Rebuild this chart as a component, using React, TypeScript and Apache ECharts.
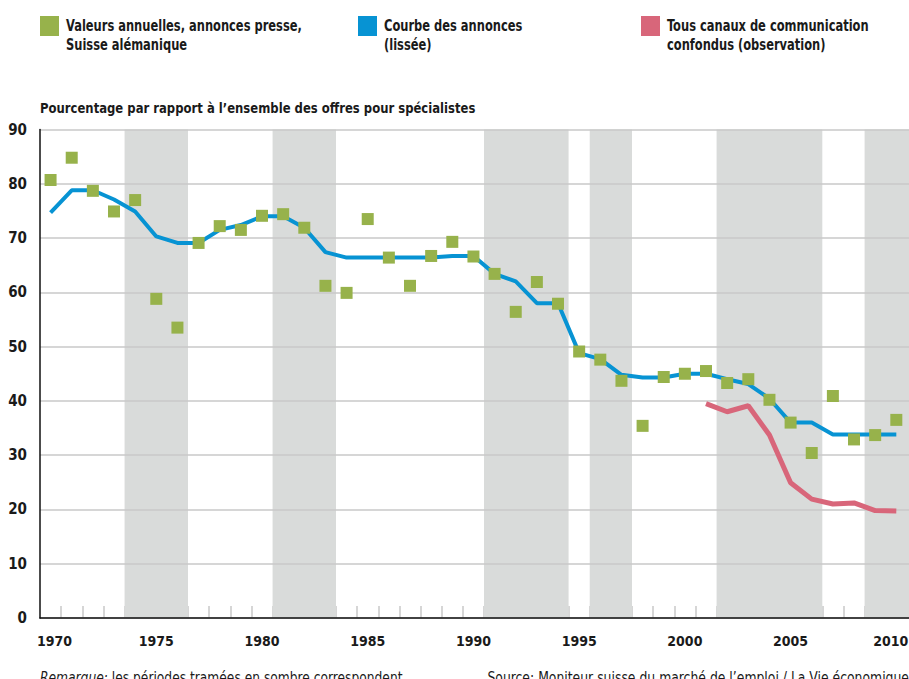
import React, { useEffect, useRef } from "react";
import * as echarts from "echarts";

const years = [
  1970, 1971, 1972, 1973, 1974, 1975, 1976, 1977, 1978, 1979,
  1980, 1981, 1982, 1983, 1984, 1985, 1986, 1987, 1988, 1989,
  1990, 1991, 1992, 1993, 1994, 1995, 1996, 1997, 1998, 1999,
  2000, 2001, 2002, 2003, 2004, 2005, 2006, 2007, 2008, 2009, 2010,
];

const annualValues = [
  80.7, 84.8, 78.7, 74.9, 77.0, 58.8, 53.5, 69.1, 72.2, 71.5,
  74.1, 74.4, 71.9, 61.2, 59.9, 73.5, 66.4, 61.2, 66.7, 69.3,
  66.6, 63.4, 56.4, 61.9, 57.9, 49.1, 47.6, 43.7, 35.4, 44.4,
  45.0, 45.5, 43.3, 44.0, 40.2, 36.0, 30.4, 40.9, 32.9, 33.7, 36.5,
];

const smoothedValues = [
  74.7, 78.8, 78.8, 77.1, 74.9, 70.3, 69.1, 69.1, 71.5, 72.4,
  74.0, 74.0, 71.9, 67.4, 66.4, 66.4, 66.4, 66.4, 66.4, 66.7,
  66.7, 63.4, 62.0, 58.0, 58.0, 48.8, 47.7, 44.8, 44.3, 44.3,
  45.0, 45.0, 44.0, 43.1, 40.4, 36.0, 36.0, 33.8, 33.8, 33.8, 33.8,
];

const allChannelsYears = [2001, 2002, 2003, 2004, 2005, 2006, 2007, 2008, 2009, 2010];
const allChannelsValues = [39.5, 38.0, 39.1, 33.7, 24.9, 21.9, 21.0, 21.2, 19.8, 19.7];

const recessionPeriods: [number, number][] = [
  [1973.5, 1976.5],
  [1980.5, 1983.5],
  [1990.5, 1994.5],
  [1995.5, 1997.5],
  [2001.5, 2006.5],
  [2008.5, 2010.6],
];

const xLabelYears = [1970, 1975, 1980, 1985, 1990, 1995, 2000, 2005, 2010];
const yTicks = [0, 10, 20, 30, 40, 50, 60, 70, 80, 90];

const legendItems = [
  { color: "#97b24b", lines: ["Valeurs annuelles, annonces presse,", "Suisse alémanique"] },
  { color: "#0793d3", lines: ["Courbe des annonces", "(lissée)"] },
  { color: "#d8667a", lines: ["Tous canaux de communication", "confondus (observation)"] },
];

const titleText = "Pourcentage par rapport à l\u2019ensemble des offres pour spécialistes";
const noteText = "les périodes tramées en sombre correspondent";
const sourceText = "Source: Moniteur suisse du marché de l\u2019emploi / La Vie économique";

const FONT = "'DejaVu Sans Condensed', 'Liberation Sans Narrow', 'Liberation Sans', sans-serif";
const TXT = "#1a1a1a";

export default function App() {
  const ref = useRef<HTMLDivElement>(null);

  useEffect(() => {
    if (!ref.current) return;
    const chart = echarts.init(ref.current, null, { renderer: "svg" });

    const tickValues = years.slice(0, -1).map((y) => y + 0.5);
    const legendX = [40, 358, 641];
    const firstYear = xLabelYears[0];
    const lastYear = xLabelYears[xLabelYears.length - 1];

    const graphic: any[] = [];
    legendItems.forEach((it, i) => {
      graphic.push({
        type: "rect",
        shape: { x: legendX[i], y: 16, width: 19, height: 20 },
        style: { fill: it.color },
        silent: true,
      });
      it.lines.forEach((ln, j) => {
        graphic.push({
          type: "text",
          x: legendX[i] + 26,
          y: 26 + j * 19,
          scaleX: 0.85,
          style: {
            text: ln,
            font: `bold 15px ${FONT}`,
            fill: TXT,
            textVerticalAlign: "middle",
            verticalAlign: "middle",
          },
          silent: true,
        });
      });
    });
    graphic.push({
      type: "text",
      x: 40,
      y: 108,
      scaleX: 0.925,
      style: {
        text: titleText,
        font: `bold 14px ${FONT}`,
        fill: TXT,
        textVerticalAlign: "middle",
        verticalAlign: "middle",
      },
      silent: true,
    });
    graphic.push({
      type: "text",
      x: 40,
      y: 678,
      scaleX: 0.91,
      style: {
        text: "{i|Remarque:} " + noteText,
        font: `15px ${FONT}`,
        fill: TXT,
        textVerticalAlign: "middle",
        verticalAlign: "middle",
        rich: { i: { fontStyle: "italic", fontSize: 15, fontFamily: FONT, fill: TXT, color: TXT } },
      },
      silent: true,
    });
    graphic.push({
      type: "text",
      x: 909,
      y: 678,
      scaleX: 0.92,
      style: {
        text: sourceText,
        font: `15px ${FONT}`,
        fill: TXT,
        textAlign: "right",
        align: "right",
        textVerticalAlign: "middle",
        verticalAlign: "middle",
      },
      silent: true,
    });

    const labelRich = {
      s: { fontWeight: "bold", fontSize: 14, fontFamily: FONT, color: TXT, padding: [0, 0, 0, 8] },
      e: { fontWeight: "bold", fontSize: 14, fontFamily: FONT, color: TXT, padding: [0, 11, 0, 0] },
    };

    const option: any = {
      animation: false,
      grid: { left: 40, right: 0, top: 129.5, bottom: 61, containLabel: false, outerBoundsMode: "none" },
      xAxis: [
        {
          type: "value",
          min: 1969.5,
          max: 2010.6,
          z: 4,
          axisLine: { show: true, onZero: false, lineStyle: { color: "#111", width: 1.5 } },
          axisTick: { show: false },
          splitLine: { show: false },
          axisLabel: {
            customValues: xLabelYears,
            color: TXT,
            fontWeight: "bold",
            fontSize: 14,
            fontFamily: FONT,
            margin: 16,
            rich: labelRich,
            formatter: (v: number) => {
              const y = Math.round(v);
              if (y === firstYear) return `{s|${y}}`;
              if (y === lastYear) return `{e|${y}}`;
              return String(y);
            },
          },
        },
        {
          type: "value",
          min: 1969.5,
          max: 2010.6,
          position: "bottom",
          z: 0,
          axisLine: { show: false },
          axisLabel: { show: false },
          splitLine: { show: false },
          axisTick: {
            show: true,
            inside: true,
            length: 12,
            customValues: tickValues,
            lineStyle: { color: "#c9c9c9", width: 1.5 },
          },
        },
      ],
      yAxis: {
        type: "value",
        min: 0,
        max: 90,
        interval: 10,
        z: 3,
        axisLine: { show: true, lineStyle: { color: "#111", width: 1.5 } },
        axisTick: { show: false },
        splitLine: { show: true, lineStyle: { color: "#c9c9c9", width: 1.5 } },
        axisLabel: {
          customValues: yTicks,
          color: TXT,
          fontWeight: "bold",
          fontSize: 15,
          fontFamily: FONT,
          margin: 13,
        },
      },
      graphic,
      series: [
        {
          type: "line",
          xAxisIndex: 0,
          data: [],
          z: 1,
          silent: true,
          markArea: {
            silent: true,
            z: 1,
            itemStyle: { color: "#d9dbda" },
            data: recessionPeriods.map(([a, b]) => [{ xAxis: a }, { xAxis: b }]),
          },
        },
        {
          name: "Courbe des annonces (lissée)",
          type: "line",
          xAxisIndex: 0,
          z: 5,
          symbol: "none",
          lineStyle: { color: "#0793d3", width: 4 },
          itemStyle: { color: "#0793d3" },
          data: years.map((y, i) => [y, smoothedValues[i]]),
        },
        {
          name: "Tous canaux de communication confondus (observation)",
          type: "line",
          xAxisIndex: 0,
          z: 5,
          symbol: "none",
          lineStyle: { color: "#d8667a", width: 5 },
          itemStyle: { color: "#d8667a" },
          data: allChannelsYears.map((y, i) => [y, allChannelsValues[i]]),
        },
        {
          name: "Valeurs annuelles, annonces presse, Suisse alémanique",
          type: "scatter",
          xAxisIndex: 0,
          z: 6,
          symbol: "rect",
          symbolSize: 12,
          itemStyle: { color: "#97b24b", opacity: 1 },
          data: years.map((y, i) => [y, annualValues[i]]),
        },
      ],
    };

    chart.setOption(option);
    return () => chart.dispose();
  }, []);

  return (
    <div
      ref={ref}
      style={{ position: "absolute", left: 0, top: 0, width: 909, height: 679, background: "#fff" }}
    />
  );
}
